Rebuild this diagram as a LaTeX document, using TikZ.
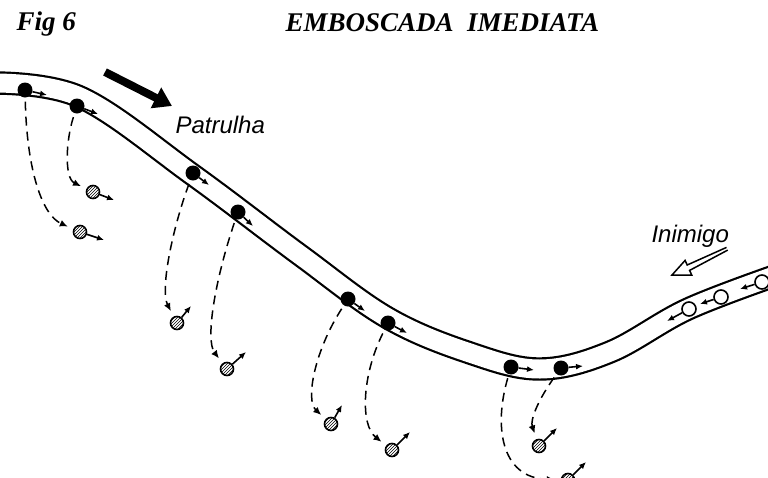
\documentclass[tikz,border=0pt]{standalone}
\usepackage{fontspec}
\setmainfont{Liberation Serif}
\setsansfont{Liberation Sans}
\usepackage{tikz}
\usetikzlibrary{arrows.meta,patterns,positioning}
\tikzstyle{pat} = [circle, fill=black, minimum size=15pt, inner sep=0pt]
\tikzstyle{ini} = [circle, draw, line width=1.6pt, fill=white, minimum size=14pt, inner sep=0pt]
\tikzstyle{emb} = [circle, draw, line width=1.6pt, pattern=north east lines, minimum size=13pt, inner sep=0pt]
\tikzstyle{mv} = [draw, line width=1.6pt, >={Latex[length=7pt,width=6pt]}, ->]
\tikzstyle{dedge} = [draw, line width=1.5pt, dash pattern=on 9pt off 6pt, >={Latex[length=8pt,width=7pt]}, ->, shorten <=4pt, shorten >=6pt]
\tikzstyle{titletext} = [anchor=base west, font=\fontsize{27}{30}\selectfont\bfseries\itshape]
\tikzstyle{labeltext} = [anchor=base west, font=\fontsize{24}{28}\selectfont\sffamily\itshape]

\begin{document}
\begin{tikzpicture}[x=1pt, y=-1pt]

\useasboundingbox (0,0) rectangle (768,477);
\clip (0,0) rectangle (768,477);

% road =============================
\draw[line width=2.2pt, double distance=19pt] plot[smooth, tension=0.6] coordinates
  {(-10,83) (80,97) (193,175) (300,255) (388,318) (470,353) (540,369) (610,352) (688,309) (780,274)};

% texts
\node[titletext] (fig) at (13,30) {Fig 6};
\node[titletext] (title) at (282,31) {EMBOSCADA\ \ IMEDIATA};
\node[labeltext] (patrulha) at (172,133) {Patrulha};
\node[labeltext] (inimigo) at (648,242) {Inimigo};

% patrulha
\node[pat] (p1) at (25,90) {};
\node[pat] (p2) at (77,106) {};
\node[pat] (p3) at (193,173) {};
\node[pat] (p4) at (238,212) {};
\node[pat] (p5) at (348,299) {};
\node[pat] (p6) at (388,323) {};
\node[pat] (p7) at (511,367) {};
\node[pat] (p8) at (561,368) {};

% emboscada
\node[emb] (a1) at (80,232) {};
\node[emb] (a2) at (93,192) {};
\node[emb] (a3) at (177,323) {};
\node[emb] (a4) at (227,369) {};
\node[emb] (a5) at (331,424) {};
\node[emb] (a6) at (392,450) {};
\node[emb] (a7) at (568,480) {};
\node[emb] (a8) at (539,446) {};

% inimigo
\node[ini] (e1) at (689,309) {};
\node[ini] (e2) at (721,297) {};
\node[ini] (e3) at (762,282) {};

% big arrows
\coordinate (bs) at (105,72);
\coordinate (bt) at (172,106);
\draw[line width=8pt, -{Triangle[length=18pt,width=22pt]}] (bs) -- (bt);
\draw[line width=1.5pt, fill=white] (727.7,250.1) -- (689.6,270.4) -- (691.7,275.0) -- (672,275)
  -- (685.1,260.4) -- (687.2,265.0) -- (726.5,247.4);

% moves
\path[mv] (p1) -- ++(22,5);
\path[mv] (p2) -- ++(21,8);
\path[mv] (p3) -- ++(16,12);
\path[mv] (p4) -- ++(15,14);
\path[mv] (p5) -- ++(17,12);
\path[mv] (p6) -- ++(19,10);
\path[mv] (p7) -- ++(23,3);
\path[mv] (p8) -- ++(22,-2);
\path[mv] (a1) -- ++(24,8);
\path[mv] (a2) -- ++(21,8);
\path[mv] (a3) -- ++(14,-17);
\path[mv] (a4) -- ++(19,-17);
\path[mv] (a5) -- ++(11,-19);
\path[mv] (a6) -- ++(18,-18);
\path[mv] (a7) -- ++(18,-18);
\path[mv] (a8) -- ++(18,-18);
\path[mv] (e1) -- ++(-22,12);
\path[mv] (e2) -- ++(-21,7);
\path[mv] (e3) -- ++(-22,7);

% edges
\path[dedge] (p1) .. controls (27,170) and (42,215) .. (a1);
\path[dedge] (p2) .. controls (66,140) and (64,178) .. (a2);
\path[dedge] (p3) .. controls (172,230) and (160,290) .. (a3);
\path[dedge] (p4) .. controls (215,280) and (205,340) .. (a4);
\path[dedge] (p5) .. controls (315,350) and (305,400) .. (a5);
\path[dedge] (p6) .. controls (362,375) and (360,425) .. (a6);
\path[dedge] (p7) .. controls (494,425) and (500,478) .. (a7);
\path[dedge] (p8) .. controls (538,400) and (530,420) .. (a8);

\end{tikzpicture}
\end{document}
